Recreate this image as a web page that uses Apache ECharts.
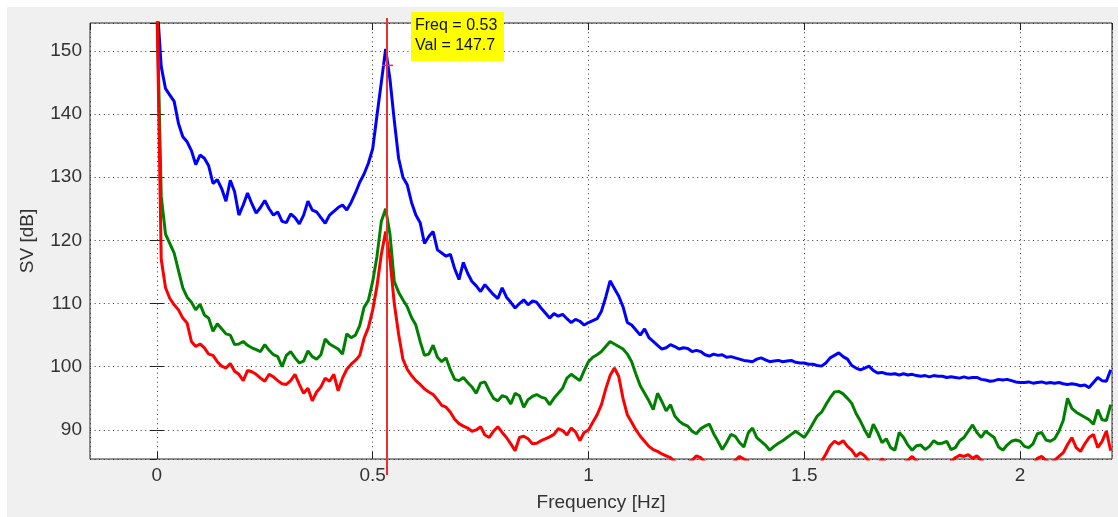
<!DOCTYPE html>
<html>
<head>
<meta charset="utf-8">
<title>SV spectrum</title>
<script src="https://cdn.jsdelivr.net/npm/echarts@6/dist/echarts.min.js"></script>
<style>
    html, body { margin: 0; padding: 0; background: #fff; }
    /* grey figure area, offset like the screenshot */
    #svChart { position: absolute; left: 7px; top: 7px; width: 1111px; height: 510px; }
</style>
</head>
<body>
<div id="svChart"></div>
<script>
    // sampling of the frequency axis (Hz)
    const freqStart = 0
    const freqStep = 0.01

    // axis ranges and ticks
    const xRange = [-0.155, 2.213]
    const yRange = [85.4, 154.4]
    const xTickStep = 0.5
    const yTickStep = 10

    // SV [dB], one value per 0.01 Hz from 0.00 to 2.21
    const svBlue = [
        158, 147.5, 144.0, 143.0, 142.0, 138.5, 136.4, 135.6, 134.2, 132.0,
        133.5, 133.0, 131.8, 129.0, 129.6, 128.2, 126.2, 129.5, 127.7, 124.0,
        125.6, 127.5, 125.8, 124.3, 125.2, 126.3, 125.0, 124.0, 124.5, 123.0,
        122.8, 124.2, 123.6, 122.6, 124.0, 126.2, 124.8, 124.5, 123.6, 122.7,
        124.0, 124.6, 125.2, 125.6, 124.8, 126.0, 127.5, 129.2, 130.5, 132.2,
        134.5, 139.8, 145.0, 150.3, 145.5, 139.0, 133.0, 130.0, 128.8, 126.0,
        124.0, 122.8, 119.5, 120.6, 121.4, 118.5, 118.0, 117.5, 117.8, 115.5,
        113.8, 116.5, 114.8, 113.5, 112.8, 111.9, 113.0, 112.2, 111.4, 110.8,
        112.5, 111.0, 110.2, 109.3, 110.0, 110.6, 109.8, 110.4, 110.2, 109.3,
        108.5, 107.7, 108.4, 108.0, 108.3, 107.6, 107.0, 107.5, 107.2, 106.6,
        107.0, 107.3, 107.6, 108.8, 111.0, 113.6, 112.4, 111.2, 109.5, 107.0,
        106.6, 105.8, 105.0, 106.0, 104.6, 104.0, 103.4, 102.8, 103.0, 103.5,
        103.2, 102.8, 103.0, 102.9, 102.4, 102.6, 102.4, 101.9, 101.7, 102.0,
        101.8, 101.9, 101.5, 101.6, 101.4, 101.2, 101.0, 100.9, 100.8, 101.2,
        101.4, 101.1, 100.8, 100.9, 101.0, 100.8, 100.9, 101.0, 100.7, 100.6,
        100.6, 100.4, 100.4, 100.2, 100.1, 100.6, 101.4, 101.8, 102.2, 101.6,
        101.2, 100.2, 99.8, 99.5, 99.8, 100.1, 99.4, 99.0, 99.1, 98.9,
        98.8, 98.9, 98.7, 98.9, 98.7, 98.8, 98.6, 98.5, 98.6, 98.4,
        98.6, 98.5, 98.5, 98.3, 98.4, 98.3, 98.2, 98.4, 98.2, 98.3,
        98.3, 98.0, 97.9, 97.7, 97.8, 98.0, 97.9, 98.0, 97.8, 97.6,
        97.5, 97.5, 97.6, 97.4, 97.5, 97.6, 97.4, 97.5, 97.4, 97.5,
        97.3, 97.2, 97.3, 97.2, 97.0, 97.1, 96.7, 97.5, 98.3, 97.8,
        97.7, 99.5
    ]
    const svGreen = [
        158, 127.0, 121.0, 119.5, 118.0, 115.2, 112.5, 111.0, 110.2, 109.0,
        109.9, 108.2, 107.7, 105.6, 106.8, 106.0, 105.2, 105.0, 103.5, 103.6,
        104.0, 103.4, 103.0, 102.7, 102.4, 103.5, 102.6, 101.9, 101.6, 100.0,
        101.8, 102.4, 101.4, 100.6, 100.9, 102.5, 101.6, 101.2, 101.9, 104.4,
        103.6, 103.2, 102.8, 102.0, 105.2, 104.6, 105.0, 106.5, 109.4, 110.5,
        113.5, 117.5, 123.0, 125.0, 121.0, 113.5, 111.8, 110.6, 109.5, 107.8,
        106.6, 104.0, 101.8, 102.0, 103.4, 101.5, 100.8, 101.4, 99.5, 98.0,
        97.8, 98.3, 97.5, 96.8, 95.8, 97.4, 97.6, 96.2, 95.0, 94.6,
        95.4, 95.2, 94.1, 95.8, 95.4, 93.6, 94.8, 95.3, 95.6, 95.2,
        95.0, 94.0, 95.0, 95.8, 96.6, 98.2, 98.8, 98.3, 97.8, 99.4,
        100.8, 101.5, 101.9, 102.4, 103.2, 104.0, 103.6, 103.2, 102.8, 102.0,
        100.8, 98.8, 97.0, 95.8, 94.6, 93.2, 95.8, 94.5, 93.0, 94.0,
        92.2, 91.4, 90.9, 90.6, 89.8, 89.4, 90.2, 90.6, 90.9, 89.4,
        88.2, 86.9, 88.0, 89.3, 89.0, 88.0, 87.3, 89.5, 90.3, 88.8,
        88.2, 87.6, 86.8, 87.4, 87.9, 88.3, 88.8, 89.3, 89.8, 89.3,
        88.8, 89.8, 91.0, 92.2, 92.8, 94.0, 95.1, 96.0, 96.1, 95.7,
        95.0, 94.2, 92.6, 91.4, 90.0, 88.8, 90.9, 89.6, 88.0, 88.6,
        87.2, 86.8, 89.6, 88.8, 87.6, 86.8, 87.5, 87.6, 86.9, 87.4,
        88.3, 87.8, 87.9, 88.2, 86.9, 87.2, 88.3, 88.8, 89.8, 90.8,
        89.6, 88.8, 89.8, 89.3, 88.8, 87.3, 86.8, 87.6, 88.2, 88.4,
        88.2, 87.4, 87.2, 87.8, 89.4, 89.6, 88.4, 88.2, 88.6, 89.8,
        91.5, 95.0, 93.4, 92.8, 92.4, 92.0, 91.6, 90.9, 93.2, 91.6,
        91.5, 94.0
    ]
    const svRed = [
        158, 117.0, 112.5, 110.8, 109.8, 109.0, 107.7, 106.9, 104.0, 103.2,
        103.6, 103.0, 102.0, 101.8, 100.8, 100.1, 99.8, 100.5, 99.3, 98.8,
        97.8, 99.4, 99.2, 98.8, 98.2, 97.7, 98.8, 98.4, 97.8, 97.3,
        97.2, 97.8, 98.8, 97.2, 95.8, 96.6, 94.6, 96.0, 96.8, 98.2,
        97.7, 98.8, 96.2, 98.2, 99.6, 100.4, 101.0, 101.8, 104.5, 106.2,
        109.0, 112.8, 117.8, 121.4, 117.0, 110.0, 105.2, 101.2, 99.6, 98.6,
        97.8, 97.2, 96.5, 96.0, 95.6, 94.8, 93.9, 93.6, 92.8, 91.7,
        91.0, 90.6, 90.3, 89.8, 90.0, 90.5, 89.2, 88.8, 89.8, 90.5,
        89.6, 88.8, 87.8, 86.7, 88.8, 89.0, 88.6, 87.8, 87.9, 88.3,
        88.6, 88.9, 89.3, 90.2, 89.9, 89.2, 90.3, 89.7, 88.3, 89.6,
        90.0, 91.2, 92.4, 94.0, 96.5, 98.6, 99.8, 98.5, 95.0, 92.4,
        91.2, 90.0, 89.0, 88.2, 87.4, 86.9, 86.6, 86.2, 85.9, 85.6,
        85.0, 84.6, 84.2, 84.8, 85.2, 85.9, 85.6, 84.9, 84.4, 84.0,
        83.8, 84.2, 83.9, 84.5, 85.2, 85.8, 85.4, 85.0, 84.2, 83.9,
        83.6, 84.0, 84.3, 83.8, 83.5, 83.9, 84.4, 84.1, 83.7, 84.0,
        83.8, 84.2, 84.6, 84.4, 85.0, 86.2, 87.5, 88.2, 87.8, 88.3,
        87.4, 86.8, 85.8, 86.4, 85.9, 85.0, 84.2, 84.6, 85.4, 84.8,
        84.0, 83.7, 84.1, 84.8, 85.2, 85.8, 85.1, 84.4, 83.9, 84.3,
        84.8, 84.2, 84.0, 84.6, 85.0, 85.6, 86.0, 85.8, 86.1, 85.5,
        85.9, 85.2, 84.6, 84.0, 83.8, 84.3, 84.8, 84.2, 83.9, 84.4,
        84.8, 84.5, 84.2, 84.6, 85.5, 85.8, 85.2, 84.7, 85.2, 85.8,
        86.4, 87.7, 88.8, 87.2, 86.6, 87.8, 88.8, 89.3, 87.2, 88.2,
        89.8, 86.7
    ]

    // data cursor shown in the picture
    const tipFreq = 0.534
    const tipVal = 147.7

    const fontFamily = '"Liberation Sans", Arial, Helvetica, sans-serif'
    const textColor = '#333'

    // turn a value list into [freq, value] pairs
    function toPairs(values){
        return values.map(function(v, i){
            return [+(freqStart + i * freqStep).toFixed(2), v]
        })
    }

    function lineSeries(name, values, color){
        return {
            name: name,
            type: 'line',
            data: toPairs(values),
            showSymbol: false,
            silent: true,
            clip: true,
            lineStyle: { color: color, width: 3 },
            itemStyle: { color: color }
        }
    }

    // mirrored axes (top / right) only carry the inside ticks, like matlab's box
    function mirrorAxis(pos, range, step){
        return {
            type: 'value',
            position: pos,
            min: range[0],
            max: range[1],
            minInterval: step,
            maxInterval: step,
            axisLine: { show: false },
            axisTick: { show: true, inside: true, length: 7, lineStyle: { color: '#222' } },
            axisLabel: { show: false },
            splitLine: { show: false }
        }
    }

    const myChart = echarts.init(document.getElementById('svChart'))

    const option = {
        animation: false,
        backgroundColor: '#f0f0f0',
        grid: {
            left: 83,
            right: 6,
            top: 16,
            bottom: 55,
            show: true,
            backgroundColor: '#ffffff',
            borderColor: '#2b2b2b',
            borderWidth: 1
        },
        xAxis: [
            {
                type: 'value',
                min: xRange[0],
                max: xRange[1],
                minInterval: xTickStep,
                maxInterval: xTickStep,
                name: 'Frequency [Hz]',
                nameLocation: 'middle',
                nameGap: 34,
                nameTextStyle: { fontFamily: fontFamily, fontSize: 19, color: textColor },
                axisLine: { show: false },
                axisTick: { show: true, inside: true, length: 7, lineStyle: { color: '#222' } },
                axisLabel: {
                    showMinLabel: false,
                    showMaxLabel: false,
                    margin: 7,
                    fontFamily: fontFamily,
                    fontSize: 19,
                    color: textColor
                },
                splitLine: { show: true, lineStyle: { color: '#333', width: 1, type: [1, 3.6] } }
            },
            mirrorAxis('top', xRange, xTickStep)
        ],
        yAxis: [
            {
                type: 'value',
                min: yRange[0],
                max: yRange[1],
                minInterval: yTickStep,
                maxInterval: yTickStep,
                name: 'SV [dB]',
                nameLocation: 'middle',
                nameRotate: 90,
                nameGap: 53,
                nameTextStyle: { fontFamily: fontFamily, fontSize: 19, color: textColor },
                axisLine: { show: false },
                axisTick: { show: true, inside: true, length: 7, lineStyle: { color: '#222' } },
                axisLabel: {
                    showMinLabel: false,
                    showMaxLabel: false,
                    margin: 8,
                    fontFamily: fontFamily,
                    fontSize: 19,
                    color: textColor
                },
                splitLine: { show: true, lineStyle: { color: '#333', width: 1, type: [1, 3.6] } }
            },
            mirrorAxis('right', yRange, yTickStep)
        ],
        series: [
            lineSeries('blue', svBlue, '#0000ff'),
            lineSeries('green', svGreen, '#008000'),
            lineSeries('red', svRed, '#ff0000')
        ]
    }
    myChart.setOption(option)

    // data cursor: vertical red line, small cross and the yellow tip box
    const tipPt = myChart.convertToPixel({ gridIndex: 0 }, [tipFreq, tipVal])
    const topPt = myChart.convertToPixel({ gridIndex: 0 }, [tipFreq, yRange[1]])
    const botPt = myChart.convertToPixel({ gridIndex: 0 }, [tipFreq, yRange[0]])
    const cursorX = Math.round(tipPt[0])
    myChart.setOption({
        graphic: [
            {
                type: 'line',
                silent: true,
                z: 10,
                shape: { x1: cursorX, y1: topPt[1] - 5, x2: cursorX, y2: botPt[1] + 16 },
                style: { stroke: '#ec3030', lineWidth: 2 }
            },
            {
                type: 'line',
                silent: true,
                z: 10,
                shape: { x1: cursorX - 5, y1: tipPt[1], x2: cursorX + 6, y2: tipPt[1] },
                style: { stroke: '#ec3030', lineWidth: 1.5 }
            },
            {
                type: 'rect',
                silent: true,
                z: 11,
                shape: { x: cursorX + 24, y: topPt[1] - 11, width: 93, height: 49 },
                style: { fill: '#ffff00' }
            },
            {
                type: 'text',
                silent: true,
                z: 12,
                x: cursorX + 28,
                y: topPt[1] - 7,
                style: {
                    text: 'Freq = ' + tipFreq.toFixed(2) + '\nVal = ' + tipVal.toFixed(1),
                    font: '16px ' + fontFamily,
                    lineHeight: 20,
                    fill: '#111'
                }
            }
        ]
    })

    window.addEventListener('resize', function(){
        myChart.resize()
    })
</script>
</body>
</html>
